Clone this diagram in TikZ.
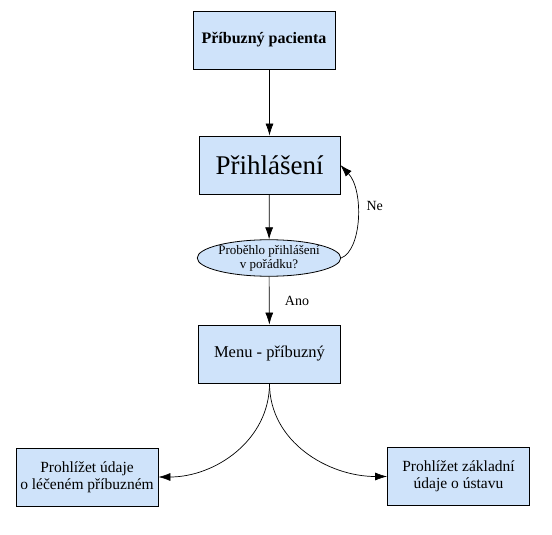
\documentclass[tikz,border=0pt]{standalone}
\usepackage{fontspec}
\setmainfont{Liberation Serif}
\usetikzlibrary{shapes.geometric,arrows.meta}
\definecolor{oblak}{RGB}{207,227,250}
\begin{document}
\begin{tikzpicture}[x=1pt,y=-1pt,
		krok/.style={draw,line width=0.8pt,fill=oblak,minimum width=142pt,minimum height=58pt,align=center,inner sep=2pt},
		otazka/.style={draw,line width=0.8pt,ellipse,fill=oblak,minimum width=140pt,minimum height=36pt,inner sep=0pt,align=center},
		sipka/.style={-{Latex[length=12pt,width=8pt]},line width=0.7pt}]
			\useasboundingbox (0,0) rectangle (552,535);
			\node[krok,font=\fontsize{16}{19}\selectfont\bfseries] (pribuzny) at (264,40) {Příbuzný pacienta};
			\node[krok,minimum width=141pt,font=\fontsize{27}{32}\selectfont] (prihlaseni) at (269.5,165) {Přihlášení};
			\node[otazka,font=\fontsize{13}{14}\selectfont] (kontrola) at (269,258) {Proběhlo přihlášení\\v pořádku?};
			\node[krok,font=\fontsize{16.5}{20}\selectfont] (menu) at (269.5,354) {Menu - příbuzný};
			\node[krok,font=\fontsize{15.5}{17}\selectfont] (udaje) at (87,477) {Prohlížet údaje\\o léčeném příbuzném};
			\node[krok,font=\fontsize{15.5}{17}\selectfont] (ustav) at (458.5,476.5) {Prohlížet základní\\údaje o ústavu};
			\draw[sipka] (pribuzny.south -| prihlaseni) -- (prihlaseni);
			\draw[sipka] (prihlaseni) -- (kontrola);
			\draw[sipka] (kontrola) -- node[right=12pt,font=\fontsize{14}{16}\selectfont]{Ano} (menu);
			\draw[sipka] (kontrola.east) .. controls (362,250) and (364,190) .. node[pos=0.6,right=6pt,font=\fontsize{14}{16}\selectfont]{Ne} (prihlaseni.east);
			\foreach \cil/\uhel in {udaje/0,ustav/180}
				\draw[sipka] (menu.south) to[out=-90,in=\uhel] (\cil);
		\end{tikzpicture}
\end{document}
